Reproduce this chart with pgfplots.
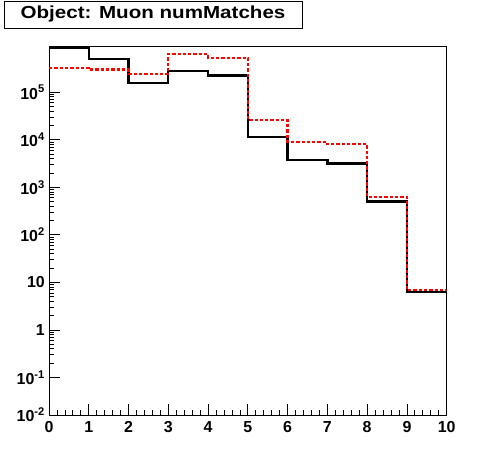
\documentclass[border=0pt]{standalone}
\usepackage{fontspec}
\setmainfont{Liberation Sans}
\usepackage{graphicx}
\usepackage{pgfplots}
\pgfplotsset{compat=1.18}

% bin contents (bins 0..9, last point repeats the last bin)
\pgfplotstableread{
x  y
0  8.8e5
1  5.0e5
2  1.55e5
3  2.8e5
4  2.24e5
5  1.16e4
6  3.8e3
7  3.15e3
8  500
9  6.3
10 6.3
}\blackhist
\pgfplotstableread{
x  y
0  3.2e5
1  3.0e5
2  2.46e5
3  6.4e5
4  5.3e5
5  2.6e4
6  9.0e3
7  8.1e3
8  630
9  7.0
10 7.0
}\redhist

\begin{document}
\begin{tikzpicture}[x=1bp,y=1bp]
\path[use as bounding box] (-49,-57) rectangle (447,415);
\begin{axis}[at={(0,0)},anchor=south west,scale only axis,
  width=397.7bp,height=368.3bp,
  ymode=log,xmin=0,xmax=10,ymin=0.0162,ymax=9.1e5,
  xtick={0,...,10},minor x tick num=4,
  ytickten={-1,...,5},
  yticklabel={\pgfmathtruncatemacro\myexp{round(\tick/ln(10))}\ifnum\myexp=0 1\else\ifnum\myexp=1 10\else 10\textsuperscript{\myexp}\fi\fi},
  extra y ticks={0.0162},extra y tick labels={10\textsuperscript{-2}},
  extra y tick style={major tick length=0pt},
  tick pos=left,tick align=inside,
  major tick length=11bp,minor tick length=5bp,
  every tick/.style={black,line width=0.8pt},
  axis line style={line width=0.8pt},
  /pgf/number format/assume math mode=true,
  tick label style={font=\bfseries\fontsize{16}{18}\selectfont},
  y tick label style={inner sep=0pt,xshift=-4bp},
  x tick label style={inner sep=0pt,yshift=-6bp},
]
\addplot[const plot,black,line width=2.3bp] table {\blackhist};
\addplot[const plot,red,line width=2.3bp,dash pattern=on 3.3bp off 2bp] table {\redhist};
\end{axis}
\node[draw,fill=white,line width=0.8pt,minimum width=298bp,minimum height=27bp,inner sep=0pt,
  font=\bfseries\fontsize{17.5}{20}\selectfont] at (104,400.5) {\scalebox{1.18}[1]{Object: Muon numMatches}};
\end{tikzpicture}
\end{document}
